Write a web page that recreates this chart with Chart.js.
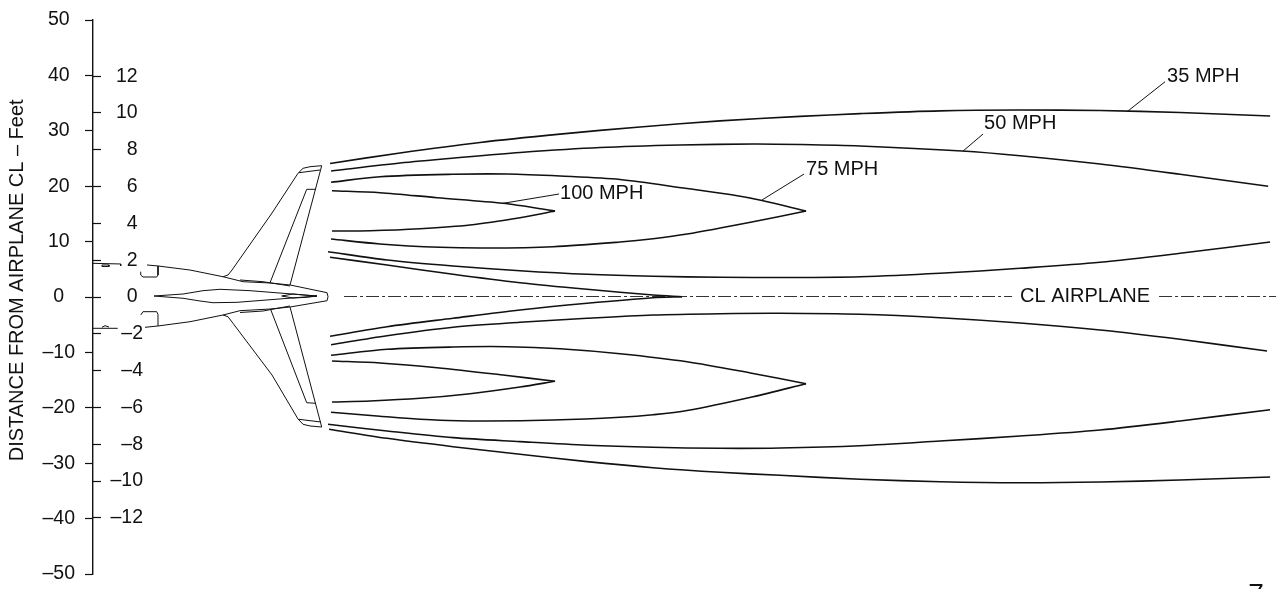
<!DOCTYPE html>
<html>
<head>
<meta charset="utf-8">
<title>Wake velocity contours</title>
<script src="https://cdn.jsdelivr.net/npm/chart.js@4/dist/chart.umd.min.js"></script>
<style>
  html, body { margin: 0; padding: 0; background: #fff; overflow: hidden; }
  canvas { display: block; }
</style>
</head>
<body>
<canvas id="wakeChart" width="1282" height="589"></canvas>
<script>
// Axis ticks
const feetTicks = [-50, -40, -30, -20, -10, 0, 10, 20, 30, 40, 50];
const meterTicks = [-12, -10, -8, -6, -4, -2, 0, 2, 4, 6, 8, 10, 12];
// leading blanks move the title up from the axis centre, as in the source drawing
const yTitle = '      DISTANCE FROM AIRPLANE CL \u2013 Feet';

// Velocity contours, [feet behind datum, feet from centerline]
const mph35Upper = [[42.78,24.1],[55.41,26.0],[69.85,27.9],[84.29,29.4],[98.73,30.7],[113.17,31.8],[127.61,32.6],[138.44,33.1],[152.88,33.6],[167.32,33.75],[181.76,33.66],[196.2,33.3],[212.45,32.67]];
const mph50Upper = [[42.96,22.74],[55.41,24.19],[66.24,25.18],[77.07,26.08],[91.51,26.98],[105.95,27.44],[119.13,27.62],[127.61,27.53],[138.44,27.26],[156.85,26.35],[167.32,25.5],[181.76,24.0],[196.2,22.15],[212.1,19.98]];
const mph75UpperOuter = [[42.96,20.7],[51.8,21.71],[64.98,22.15],[74.73,22.2],[84.29,21.84],[95.12,21.21],[107.22,19.58],[114.98,18.5],[120.75,17.42],[128.7,15.52]];
const mph75UpperInner = [[42.96,10.47],[51.8,9.57],[62.63,8.97],[71.12,8.84],[83.03,9.08],[95.12,9.93],[101.08,10.52],[107.22,11.37],[119.13,13.59],[128.7,15.52]];
const mph100UpperOuter = [[43.14,19.19],[51.8,18.83],[62.09,17.92],[74,16.91],[83.39,15.52]];
const mph100UpperInner = [[43.14,11.91],[50,11.97],[59.02,12.33],[68.05,13.0],[77.07,14.31],[83.39,15.52]];
const mph50InnerUpper = [[42.42,8.18],[53.07,6.68],[64.98,5.6],[77.07,4.75],[89.17,4.1],[101.08,3.74],[113.17,3.56],[125.27,3.52],[138.44,3.66],[152.88,4.28],[167.32,5.18],[181.76,6.26],[196.2,7.89],[212.45,9.93]];
const mph35InnerUpper = [[42.78,7.17],[53.07,5.78],[64.98,4.1],[77.07,2.58],[89.17,1.39],[101.08,0.36],[106.31,0.05]];
const mph35InnerLower = [[42.78,-7.09],[53.07,-5.36],[64.98,-3.84],[77.07,-2.35],[89.17,-1.14],[101.08,-0.13],[106.31,0.05]];
const mph50InnerLower = [[42.96,-8.61],[53.07,-6.99],[64.98,-5.47],[77.07,-4.57],[89.17,-3.84],[101.08,-3.25],[113.17,-3.01],[124,-2.94],[138.44,-3.12],[152.88,-3.74],[167.32,-4.69],[181.76,-5.96],[196.2,-7.64],[211.9,-9.75]];
const mph75LowerInner = [[42.96,-10.52],[53.07,-9.44],[64.98,-9.03],[74.73,-8.97],[84.29,-9.33],[95.12,-10.23],[107.22,-11.68],[119.13,-13.81],[128.7,-15.65]];
const mph75LowerOuter = [[42.96,-20.81],[51.8,-21.53],[62.63,-22.26],[71.12,-22.38],[83.03,-22.2],[95.12,-21.7],[101.08,-21.25],[107.22,-20.5],[119.13,-18.0],[128.7,-15.65]];
const mph100LowerInner = [[43.14,-11.55],[51.8,-11.91],[62.09,-12.76],[74,-14.08],[83.39,-15.22]];
const mph100LowerOuter = [[43.14,-18.95],[50,-18.77],[59.02,-18.29],[68.05,-17.46],[77.07,-16.25],[83.39,-15.22]];
const mph50Lower = [[42.42,-22.98],[53.07,-24.19],[64.98,-25.39],[77.07,-26.11],[89.17,-26.76],[101.08,-27.13],[113.17,-27.31],[124,-27.26],[138.44,-26.84],[152.88,-26.0],[167.32,-25.1],[181.76,-24.01],[196.2,-22.38],[212.45,-20.34]];
const mph35Lower = [[42.6,-23.88],[53.07,-25.51],[64.98,-27.02],[77.07,-28.39],[89.17,-29.72],[101.08,-30.81],[113.17,-31.64],[124,-32.18],[138.44,-32.9],[152.88,-33.34],[167.32,-33.52],[181.76,-33.39],[196.2,-33.03],[212.45,-32.49]];

// Label leaders
const leader35 = [[186.64,33.45],[193.5,38.86]];
const leader50 = [[157.04,26.35],[160.65,29.42]];
const leader75 = [[120.75,17.51],[128.34,22.2]];
const leader100 = [[74,16.91],[84.11,18.59]];

// Centerline
const centerLeft = [[45.31,0.09],[165.88,0.09]];
const centerRight = [[192.41,0.09],[213.53,0.09]];

// Airplane plan view
const fuselage = [[9.75,5.78],[11.73,5.6],[17.51,4.87],[23.47,3.66],[27.08,2.76],[31.95,2.53],[35.56,2.17],[42.24,0.78],[42.42,0.05],[42.24,-0.67],[35.56,-1.81],[31.95,-2.17],[26.53,-2.47],[23.47,-3.25],[17.51,-4.46],[11.73,-5.23],[9.39,-5.47]];
const inletUpper = [[11.73,5.6],[11.73,3.97],[11.5,3.61],[9.03,3.61],[8.61,3.97],[8.61,4.57]];
const inletLower = [[11.73,-5.23],[11.73,-3.12],[11.5,-2.65],[9.03,-2.65],[8.61,-3.25]];
const centerBody = [[11.01,0.18],[16.25,0.54],[19.86,1.14],[22.92,1.39],[28.34,1.14],[34.3,0.67],[40.43,0.18],[34.3,-0.31],[25.99,-0.96],[21.66,-1.03],[19.31,-0.72],[16.25,-0.23],[11.01,0.18]];
const nozzle = [[34.06,0.18],[36.1,0.54],[38.63,0.31],[40.43,0.18],[38.63,-0.05],[36.1,-0.18],[34.06,0.18]];
const wingUpper = [[23.47,3.66],[24.37,3.97],[25.09,4.87],[32.31,15.16],[37.0,22.33],[37.91,23.23],[39.17,23.52],[41.28,23.7],[35.56,2.17]];
const wingTipUpper = [[37.18,22.44],[40.97,22.92]];
const flapUpper = [[31.95,2.58],[38.57,19.44],[40.25,19.44]];
const rootUpper = [[26.53,3.07],[30.69,2.76],[35.56,1.99]];
const wingLower = [[23.47,-3.25],[24.37,-3.56],[25.27,-4.75],[32.31,-14.08],[37,-22.02],[37.91,-22.98],[39.17,-23.28],[41.28,-23.47],[35.56,-1.81]];
const wingTipLower = [[37.18,-22.08],[41.1,-22.56]];
const flapLower = [[32.08,-2.29],[38.57,-19.08],[40.25,-19.19]];
const rootLower = [[26.53,-2.8],[30.69,-2.53],[35.56,-1.62]];
const probeUpper = [[0,6.08],[5.0,5.96],[5.0,5.6]];
const probeMarkUpper = [[1.62,5.78],[2.89,5.78],[2.89,5.51],[1.62,5.51],[1.62,5.78]];
const probeLower = [[0,-5.65],[4.46,-5.65]];
const probeMarkLower = [[1.62,-5.47],[2.17,-5.18],[2.89,-5.42]];

// Text placed on the chart: text, x, y
const chartLabels = [
    ['35 MPH', 193.86, 39.89],
    ['50 MPH', 160.83, 31.41],
    ['75 MPH', 128.7, 23.1],
    ['100 MPH', 84.29, 18.72],
    ['CL AIRPLANE', 167.32, 0.18]
];

const INK = '#111';
const FONT = '"Liberation Sans", Arial, sans-serif';

function toPoints(list) {
    return list.map(([x, y]) => ({ x, y }));
}

function curve(list) {
    return { data: toPoints(list), borderColor: INK, borderWidth: 1.6, tension: 0.3 };
}

function outline(list) {
    return { data: toPoints(list), borderColor: INK, borderWidth: 1 };
}

function centerline(list) {
    return { data: toPoints(list), borderColor: '#333', borderWidth: 1, borderDash: [13, 3, 3, 3] };
}

// the label overhang would otherwise shrink the plot height
function dropOverhang(scale) {
    scale.paddingTop = 0;
    scale.paddingBottom = 0;
}

// Draws the curve labels and the clipped page mark at the bottom edge
const chartTextPlugin = {
    id: 'chartText',
    afterDraw(chart) {
        const { ctx, scales } = chart;
        ctx.save();
        ctx.fillStyle = INK;
        ctx.font = '20px ' + FONT;
        ctx.textBaseline = 'middle';
        ctx.textAlign = 'left';
        chartLabels.forEach(([text, x, y]) => {
            ctx.fillText(text, scales.x.getPixelForValue(x), scales.y.getPixelForValue(y));
        });
        ctx.textBaseline = 'alphabetic';
        ctx.textAlign = 'center';
        ctx.font = '28px ' + FONT;
        ctx.fillText('7', scales.x.getPixelForValue(209.9), scales.y.getPixelForValue(-55.2));
        ctx.restore();
    }
};

const whiteBackground = {
    id: 'whiteBackground',
    beforeDraw(chart) {
        chart.ctx.fillStyle = '#fff';
        chart.ctx.fillRect(0, 0, chart.width, chart.height);
    }
};

const meterRange = 15.05;

new Chart(document.getElementById('wakeChart').getContext('2d'), {
    type: 'scatter',
    plugins: [whiteBackground, chartTextPlugin],
    data: {
        datasets: [
            ...[mph35Upper, mph50Upper, mph75UpperOuter, mph75UpperInner, mph100UpperOuter, mph100UpperInner,
                mph50InnerUpper, mph35InnerUpper, mph35InnerLower, mph50InnerLower, mph75LowerInner, mph75LowerOuter,
                mph100LowerInner, mph100LowerOuter, mph50Lower, mph35Lower].map(curve),
            ...[leader35, leader50, leader75, leader100].map(outline),
            ...[fuselage, inletUpper, inletLower, centerBody, nozzle, wingUpper, wingTipUpper, flapUpper, rootUpper,
                wingLower, wingTipLower, flapLower, rootLower, probeUpper, probeMarkUpper, probeLower, probeMarkLower].map(outline),
            ...[centerLeft, centerRight].map(centerline)
        ].map(d => ({ showLine: true, pointRadius: 0, fill: false, ...d }))
    },
    options: {
        responsive: false,
        animation: false,
        layout: { padding: { top: 20, bottom: 15, left: 0, right: 0 } },
        plugins: { legend: { display: false }, tooltip: { enabled: false } },
        scales: {
            x: { type: 'linear', min: 0, max: 214.6, display: false },
            y: {
                type: 'linear',
                position: 'left',
                min: -50,
                max: 50,
                afterFit: s => { s.width = 93; dropOverhang(s); },
                afterBuildTicks: s => { s.ticks = feetTicks.map(value => ({ value })); },
                border: { color: INK, width: 1.4 },
                grid: { drawOnChartArea: false, tickLength: 8, tickColor: INK, tickWidth: 1.2 },
                ticks: {
                    color: INK,
                    font: { family: FONT, size: 19.5 },
                    crossAlign: 'center',
                    padding: 10,
                    autoSkip: false,
                    maxRotation: 0,
                    callback: v => String(v).replace('-', '\u2013')
                },
                title: { display: true, text: yTitle, color: INK, font: { family: FONT, size: 20 }, padding: { top: 5, bottom: 0 } }
            },
            // Metre tick marks: anchored right of the axis line, they reach back to it
            yMeterMarks: {
                type: 'linear',
                axis: 'y',
                position: { x: 1.44 },
                min: -meterRange,
                max: meterRange,
                afterFit: dropOverhang,
                afterBuildTicks: s => { s.ticks = meterTicks.map(value => ({ value })); },
                border: { display: false },
                grid: { drawOnChartArea: false, tickLength: 8, tickColor: INK, tickWidth: 1.2 },
                ticks: { display: false, autoSkip: false }
            },
            // Metre labels
            yMeter: {
                type: 'linear',
                axis: 'y',
                position: { x: 9.03 },
                min: -meterRange,
                max: meterRange,
                afterFit: dropOverhang,
                afterBuildTicks: s => { s.ticks = meterTicks.map(value => ({ value })); },
                border: { display: false },
                grid: { display: false },
                ticks: {
                    color: INK,
                    font: { family: FONT, size: 19.5 },
                    autoSkip: false,
                    maxRotation: 0,
                    callback: v => (v < 0 ? String(v).replace('-', '\u2013') : v + ' ')
                }
            }
        }
    }
});
</script>
</body>
</html>
